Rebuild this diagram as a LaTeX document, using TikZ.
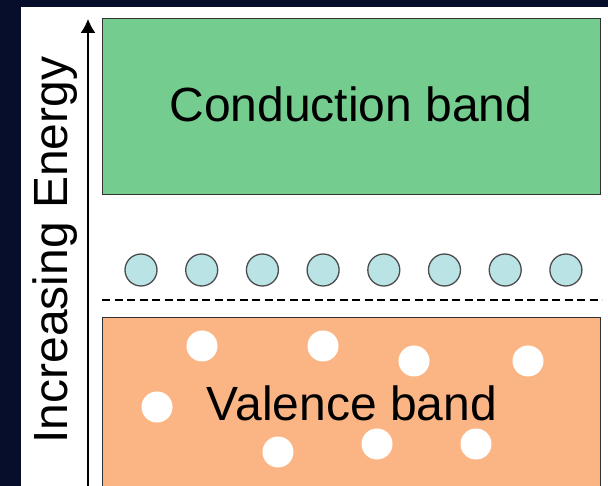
\documentclass[tikz,border=0pt]{standalone}
\usepackage{fontspec}
\setmainfont{Liberation Sans}
\usetikzlibrary{arrows.meta, positioning}
\definecolor{slidenavy}{HTML}{070E2B}
\definecolor{bandgreen}{HTML}{74CC8E}
\definecolor{bandorange}{HTML}{FBB584}
\definecolor{levelteal}{HTML}{B9E3E4}
\tikzset{
    band/.style={draw=black!80, line width=1.2pt, inner sep=0pt,
        minimum width=498pt, anchor=north west},
    band label/.style={font=\fontsize{48}{58}\selectfont, inner sep=0pt, anchor=base},
    level dot/.style={circle, draw=black!70, fill=levelteal, line width=1.3pt,
        minimum size=32pt, inner sep=0pt},
    hole/.style={circle, fill=white, minimum size=31pt, inner sep=0pt},
    energy arrow/.style={-{Latex[length=14pt, width=15pt]}, line width=1.4pt},
    fermi line/.style={line width=1.3pt, dash pattern=on 8pt off 4.5pt},
}

\begin{document}
\begin{tikzpicture}[x=1pt, y=-1pt]

    % Frame
    \fill[slidenavy] (0,0) rectangle (608,486);
    \fill[white] (21,7) rectangle (608,486);
    \useasboundingbox (0,0) rectangle (608,486);
    \clip (21,7) rectangle (608,486);

    % Bands
    \node[band, fill=bandgreen, minimum height=176pt] (conduction) at (102,18) {};
    \node[band, fill=bandorange, minimum height=200pt, below=122pt of conduction.south west,
        anchor=north west] (valence) {};
    \node[band label] (conduction label) at (351,122) {Conduction band};
    \node[band label] (valence label) at (352,420) {Valence band};

    % Levels and holes
    \foreach \i in {0,...,7}
        \node[level dot] (level\i) at ({141+60.7*\i},270) {};
    \foreach \hx/\hy [count=\k] in {202/346, 157/407, 278/452, 323/346,
                                    414/361, 528/361, 377/444, 476/444}
        \node[hole] (hole\k) at (\hx,\hy) {};

    % Dashed line
    \coordinate (fermi west) at (102,300);
    \coordinate (fermi east) at (602,300);
    \draw[fermi line] (fermi west) -- (fermi east);

    % Energy axis
    \coordinate (axis foot) at (88,492);
    \coordinate (axis tip) at (88,19);
    \draw[energy arrow] (axis foot) -- (axis tip);
    \node[band label, rotate=90] (energy) at (67,250) {Increasing Energy};

\end{tikzpicture}
\end{document}
